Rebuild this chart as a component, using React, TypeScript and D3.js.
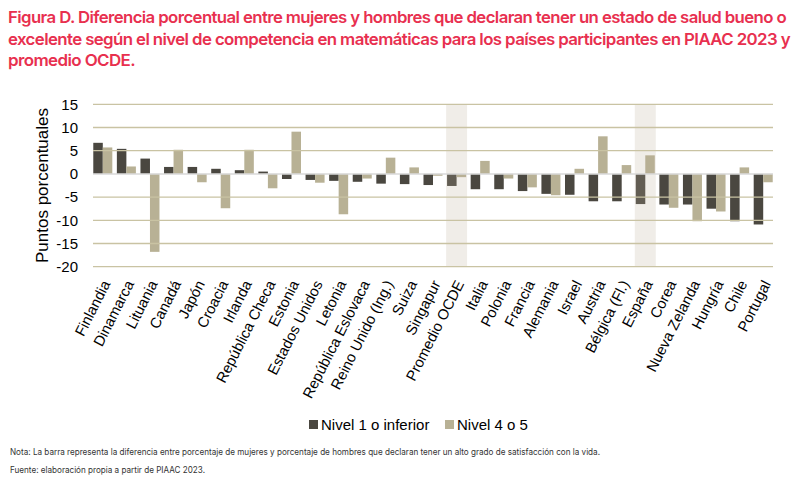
import React from "react";
import * as d3 from "d3";

const countries = [
  "Finlandia", "Dinamarca", "Lituania", "Canadá", "Japón", "Croacia", "Irlanda",
  "República Checa", "Estonia", "Estados Unidos", "Letonia", "República Eslovaca",
  "Reino Unido (Ing.)", "Suiza", "Singapur", "Promedio OCDE", "Italia", "Polonia",
  "Francia", "Alemania", "Israel", "Austria", "Bélgica (Fl.)", "España", "Corea",
  "Nueva Zelanda", "Hungría", "Chile", "Portugal",
];

const nivel1 = [
  6.7, 5.4, 3.3, 1.5, 1.5, 1.1, 0.8, 0.5, -1.1, -1.3, -1.5, -1.7, -2.1, -2.2, -2.4,
  -2.6, -3.3, -3.3, -3.7, -4.3, -4.5, -5.9, -5.9, -6.5, -6.6, -6.6, -7.5, -10.2, -10.9,
];

const nivel45 = [
  5.7, 1.6, -16.8, 5.2, -1.8, -7.4, 5.2, -3.1, 9.1, -1.9, -8.7, -1.0, 3.5, 1.4, -0.4,
  -0.7, 2.8, -1.0, -2.9, -4.6, 1.1, 8.1, 1.9, 4.0, -7.3, -10.2, -8.1, 1.4, -1.8,
];

const yTicks = [15, 10, 5, 0, -5, -10, -15, -20];
const highlighted = ["Promedio OCDE", "España"];

const keys = ["Nivel 1 o inferior", "Nivel 4 o 5"];
const colors: Record<string, string> = {
  "Nivel 1 o inferior": "#4a4740",
  "Nivel 4 o 5": "#b8b195",
};

const series = [nivel1, nivel45];

const W = 800;
const H = 482;
const margin = { left: 91, right: 25, top: 104.3, bottom: 215.3 };

export default function App() {
  const x = d3
    .scaleBand<string>()
    .domain(countries)
    .range([margin.left, W - margin.right])
    .padding(0);

  // two bars per country, side by side
  const x1 = d3
    .scaleBand<string>()
    .domain(keys)
    .range([0, x.bandwidth()])
    .paddingInner(0)
    .paddingOuter(0.24);

  const y = d3
    .scaleLinear()
    .domain([-20, 15])
    .range([H - margin.bottom, margin.top]);

  const font = "'Liberation Sans', Arial, sans-serif";
  const titleFont = "Inter, 'Noto Sans', sans-serif";

  return (
    <div style={{ position: "fixed", left: 0, top: 0 }}>
      <svg width={W} height={H} style={{ display: "block", background: "#fff" }}>
        {/* title */}
        <g
          fill="#e8304f"
          fontFamily={titleFont}
          fontWeight={600}
          fontSize={16.5}
          letterSpacing={-0.6}
        >
          <text x={8} y={23} textLength={778} lengthAdjust="spacingAndGlyphs">
            Figura D. Diferencia porcentual entre mujeres y hombres que declaran tener un estado de salud bueno o
          </text>
          <text x={8} y={45} textLength={782} lengthAdjust="spacingAndGlyphs">
            excelente según el nivel de competencia en matemáticas para los países participantes en PIAAC 2023 y
          </text>
          <text x={8} y={66} textLength={127} lengthAdjust="spacingAndGlyphs">
            promedio OCDE.
          </text>
        </g>

        {/* bars */}
        {series.map((vals, si) => (
          <g key={keys[si]} fill={colors[keys[si]]}>
            {vals.map((v, i) => (
              <rect
                key={i}
                x={(x(countries[i]) ?? 0) + (x1(keys[si]) ?? 0)}
                y={y(Math.max(0, v))}
                width={x1.bandwidth()}
                height={Math.abs(y(v) - y(0))}
              />
            ))}
          </g>
        ))}

        {/* highlight bands */}
        {highlighted.map((c) => (
          <rect
            key={c}
            x={(x(c) ?? 0) + 1.3}
            y={y(15)}
            width={x.bandwidth() - 2.6}
            height={y(-20) - y(15)}
            fill="rgb(185,172,152)"
            opacity={0.22}
          />
        ))}

        {/* grid */}
        {yTicks.map((t) =>
          t === 0 ? null : (
            <line
              key={t}
              x1={margin.left + 2}
              x2={W - margin.right - 2}
              y1={y(t)}
              y2={y(t)}
              stroke="#c9c3a3"
              strokeWidth={1.3}
            />
          )
        )}
        <line
          x1={margin.left + 2}
          x2={W - margin.right - 2}
          y1={y(0)}
          y2={y(0)}
          stroke="#d9d9d9"
          strokeWidth={1.5}
        />

        {/* y axis labels */}
        <g fontFamily={font} fontSize={15} fill="#000" textAnchor="end">
          {yTicks.map((t) => (
            <text key={t} x={78} y={y(t)} dy="0.35em">
              {t}
            </text>
          ))}
        </g>
        <text
          transform={`translate(48,${(y(15) + y(-20)) / 2}) rotate(-90)`}
          textAnchor="middle"
          fontFamily={font}
          fontSize={17}
          fill="#000"
        >
          Puntos porcentuales
        </text>

        {/* x labels */}
        <g fontFamily={font} fontSize={14.8} fill="#000" textAnchor="end">
          {countries.map((c) => (
            <text
              key={c}
              transform={`translate(${(x(c) ?? 0) + x.bandwidth() / 2 + 8},${y(-20) + 17}) rotate(-63)`}
            >
              {c}
            </text>
          ))}
        </g>

        {/* legend */}
        <g fontFamily={font} fontSize={15} fill="#000">
          <rect x={309} y={420} width={9} height={9} fill={colors[keys[0]]} />
          <text x={321} y={430}>{keys[0]}</text>
          <rect x={445} y={420} width={9} height={9} fill={colors[keys[1]]} />
          <text x={457} y={430}>{keys[1]}</text>
        </g>

        {/* notes */}
        <g fontFamily={titleFont} fontSize={9} fill="#333">
          <text x={10} y={455} textLength={590} lengthAdjust="spacingAndGlyphs">
            Nota:  La barra representa la diferencia entre porcentaje de mujeres y porcentaje de hombres que declaran tener un alto grado de satisfacción con la vida.
          </text>
          <text x={10} y={473} textLength={195} lengthAdjust="spacingAndGlyphs">
            Fuente: elaboración propia a partir de PIAAC 2023.
          </text>
        </g>
      </svg>
    </div>
  );
}
